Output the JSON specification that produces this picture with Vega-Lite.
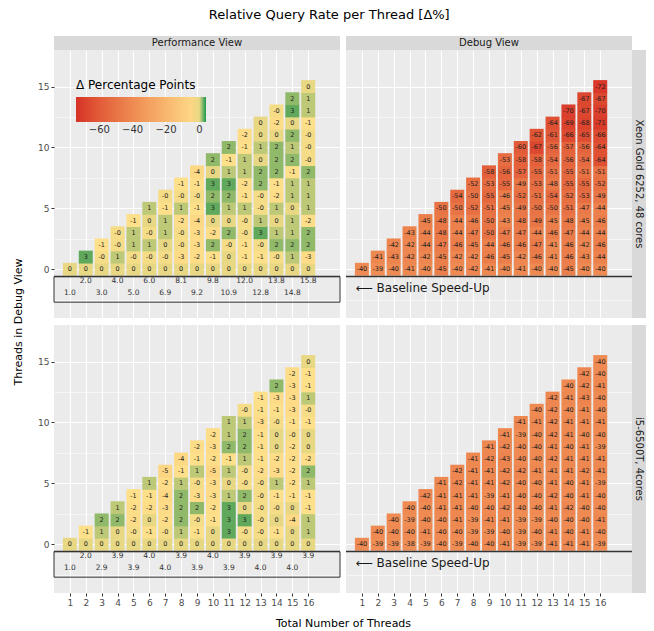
{
"$schema": "https://vega.github.io/schema/vega-lite/v6.json",
"background": "white",
"padding": {"left": 12, "top": 9, "right": 8, "bottom": 5},
"title": {"text": "Relative Query Rate per Thread [Δ%]", "anchor": "middle", "fontSize": 13, "fontWeight": "normal", "font": "DejaVu Sans", "color": "#000000", "offset": 14},
"datasets": {
"xp": [
{"x":1,"y":0,"v":0,"lab":"0"},
{"x":2,"y":0,"v":0,"lab":"0"},{"x":2,"y":1,"v":3,"lab":"3"},
{"x":3,"y":0,"v":0,"lab":"0"},{"x":3,"y":1,"v":-0.3,"lab":"-0"},{"x":3,"y":2,"v":-1,"lab":"-1"},
{"x":4,"y":0,"v":0,"lab":"0"},{"x":4,"y":1,"v":1,"lab":"1"},{"x":4,"y":2,"v":-0.3,"lab":"-0"},{"x":4,"y":3,"v":-0.3,"lab":"-0"},
{"x":5,"y":0,"v":0,"lab":"0"},{"x":5,"y":1,"v":-0.3,"lab":"-0"},{"x":5,"y":2,"v":1,"lab":"1"},{"x":5,"y":3,"v":1,"lab":"1"},{"x":5,"y":4,"v":-1,"lab":"-1"},
{"x":6,"y":0,"v":0,"lab":"0"},{"x":6,"y":1,"v":-0.3,"lab":"-0"},{"x":6,"y":2,"v":1,"lab":"1"},{"x":6,"y":3,"v":-0.3,"lab":"-0"},{"x":6,"y":4,"v":0,"lab":"0"},{"x":6,"y":5,"v":1,"lab":"1"},
{"x":7,"y":0,"v":0,"lab":"0"},{"x":7,"y":1,"v":-0.3,"lab":"-0"},{"x":7,"y":2,"v":0,"lab":"0"},{"x":7,"y":3,"v":1,"lab":"1"},{"x":7,"y":4,"v":1,"lab":"1"},{"x":7,"y":5,"v":-1,"lab":"-1"},{"x":7,"y":6,"v":-0.3,"lab":"-0"},
{"x":8,"y":0,"v":0,"lab":"0"},{"x":8,"y":1,"v":-3,"lab":"-3"},{"x":8,"y":2,"v":-0.3,"lab":"-0"},{"x":8,"y":3,"v":-0.3,"lab":"-0"},{"x":8,"y":4,"v":-2,"lab":"-2"},{"x":8,"y":5,"v":1,"lab":"1"},{"x":8,"y":6,"v":-0.3,"lab":"-0"},{"x":8,"y":7,"v":-1,"lab":"-1"},
{"x":9,"y":0,"v":0,"lab":"0"},{"x":9,"y":1,"v":-2,"lab":"-2"},{"x":9,"y":2,"v":-3,"lab":"-3"},{"x":9,"y":3,"v":-3,"lab":"-3"},{"x":9,"y":4,"v":-4,"lab":"-4"},{"x":9,"y":5,"v":-1,"lab":"-1"},{"x":9,"y":6,"v":-0.3,"lab":"-0"},{"x":9,"y":7,"v":-1,"lab":"-1"},{"x":9,"y":8,"v":-4,"lab":"-4"},
{"x":10,"y":0,"v":0,"lab":"0"},{"x":10,"y":1,"v":-1,"lab":"-1"},{"x":10,"y":2,"v":2,"lab":"2"},{"x":10,"y":3,"v":-2,"lab":"-2"},{"x":10,"y":4,"v":0,"lab":"0"},{"x":10,"y":5,"v":3,"lab":"3"},{"x":10,"y":6,"v":2,"lab":"2"},{"x":10,"y":7,"v":3,"lab":"3"},{"x":10,"y":8,"v":0,"lab":"0"},{"x":10,"y":9,"v":2,"lab":"2"},
{"x":11,"y":0,"v":0,"lab":"0"},{"x":11,"y":1,"v":0,"lab":"0"},{"x":11,"y":2,"v":-0.3,"lab":"-0"},{"x":11,"y":3,"v":2,"lab":"2"},{"x":11,"y":4,"v":0,"lab":"0"},{"x":11,"y":5,"v":1,"lab":"1"},{"x":11,"y":6,"v":2,"lab":"2"},{"x":11,"y":7,"v":3,"lab":"3"},{"x":11,"y":8,"v":1,"lab":"1"},{"x":11,"y":9,"v":-1,"lab":"-1"},{"x":11,"y":10,"v":2,"lab":"2"},
{"x":12,"y":0,"v":0,"lab":"0"},{"x":12,"y":1,"v":-1,"lab":"-1"},{"x":12,"y":2,"v":-1,"lab":"-1"},{"x":12,"y":3,"v":-0.3,"lab":"-0"},{"x":12,"y":4,"v":-0.3,"lab":"-0"},{"x":12,"y":5,"v":1,"lab":"1"},{"x":12,"y":6,"v":-1,"lab":"-1"},{"x":12,"y":7,"v":-2,"lab":"-2"},{"x":12,"y":8,"v":1,"lab":"1"},{"x":12,"y":9,"v":1,"lab":"1"},{"x":12,"y":10,"v":-1,"lab":"-1"},{"x":12,"y":11,"v":-2,"lab":"-2"},
{"x":13,"y":0,"v":0,"lab":"0"},{"x":13,"y":1,"v":-1,"lab":"-1"},{"x":13,"y":2,"v":-0.3,"lab":"-0"},{"x":13,"y":3,"v":3,"lab":"3"},{"x":13,"y":4,"v":1,"lab":"1"},{"x":13,"y":5,"v":-0.3,"lab":"-0"},{"x":13,"y":6,"v":-0.3,"lab":"-0"},{"x":13,"y":7,"v":2,"lab":"2"},{"x":13,"y":8,"v":2,"lab":"2"},{"x":13,"y":9,"v":0,"lab":"0"},{"x":13,"y":10,"v":1,"lab":"1"},{"x":13,"y":11,"v":0,"lab":"0"},{"x":13,"y":12,"v":0,"lab":"0"},
{"x":14,"y":0,"v":0,"lab":"0"},{"x":14,"y":1,"v":-0.3,"lab":"-0"},{"x":14,"y":2,"v":2,"lab":"2"},{"x":14,"y":3,"v":1,"lab":"1"},{"x":14,"y":4,"v":0,"lab":"0"},{"x":14,"y":5,"v":1,"lab":"1"},{"x":14,"y":6,"v":-2,"lab":"-2"},{"x":14,"y":7,"v":-1,"lab":"-1"},{"x":14,"y":8,"v":2,"lab":"2"},{"x":14,"y":9,"v":2,"lab":"2"},{"x":14,"y":10,"v":2,"lab":"2"},{"x":14,"y":11,"v":0,"lab":"0"},{"x":14,"y":12,"v":-2,"lab":"-2"},{"x":14,"y":13,"v":-0.3,"lab":"-0"},
{"x":15,"y":0,"v":0,"lab":"0"},{"x":15,"y":1,"v":1,"lab":"1"},{"x":15,"y":2,"v":2,"lab":"2"},{"x":15,"y":3,"v":1,"lab":"1"},{"x":15,"y":4,"v":1,"lab":"1"},{"x":15,"y":5,"v":0,"lab":"0"},{"x":15,"y":6,"v":1,"lab":"1"},{"x":15,"y":7,"v":1,"lab":"1"},{"x":15,"y":8,"v":-1,"lab":"-1"},{"x":15,"y":9,"v":2,"lab":"2"},{"x":15,"y":10,"v":1,"lab":"1"},{"x":15,"y":11,"v":2,"lab":"2"},{"x":15,"y":12,"v":0,"lab":"0"},{"x":15,"y":13,"v":3,"lab":"3"},{"x":15,"y":14,"v":2,"lab":"2"},
{"x":16,"y":0,"v":0,"lab":"0"},{"x":16,"y":1,"v":-3,"lab":"-3"},{"x":16,"y":2,"v":2,"lab":"2"},{"x":16,"y":3,"v":2,"lab":"2"},{"x":16,"y":4,"v":-2,"lab":"-2"},{"x":16,"y":5,"v":1,"lab":"1"},{"x":16,"y":6,"v":1,"lab":"1"},{"x":16,"y":7,"v":1,"lab":"1"},{"x":16,"y":8,"v":2,"lab":"2"},{"x":16,"y":9,"v":-0.3,"lab":"-0"},{"x":16,"y":10,"v":-0.3,"lab":"-0"},{"x":16,"y":11,"v":-0.3,"lab":"-0"},{"x":16,"y":12,"v":-1,"lab":"-1"},{"x":16,"y":13,"v":1,"lab":"1"},{"x":16,"y":14,"v":1,"lab":"1"},{"x":16,"y":15,"v":0,"lab":"0"}
],
"xd": [
{"x":1,"y":0,"v":-40},
{"x":2,"y":0,"v":-39},{"x":2,"y":1,"v":-41},
{"x":3,"y":0,"v":-40},{"x":3,"y":1,"v":-43},{"x":3,"y":2,"v":-42},
{"x":4,"y":0,"v":-41},{"x":4,"y":1,"v":-42},{"x":4,"y":2,"v":-42},{"x":4,"y":3,"v":-43},
{"x":5,"y":0,"v":-40},{"x":5,"y":1,"v":-42},{"x":5,"y":2,"v":-44},{"x":5,"y":3,"v":-44},{"x":5,"y":4,"v":-45},
{"x":6,"y":0,"v":-45},{"x":6,"y":1,"v":-45},{"x":6,"y":2,"v":-47},{"x":6,"y":3,"v":-48},{"x":6,"y":4,"v":-48},{"x":6,"y":5,"v":-50},
{"x":7,"y":0,"v":-40},{"x":7,"y":1,"v":-42},{"x":7,"y":2,"v":-46},{"x":7,"y":3,"v":-44},{"x":7,"y":4,"v":-44},{"x":7,"y":5,"v":-50},{"x":7,"y":6,"v":-54},
{"x":8,"y":0,"v":-42},{"x":8,"y":1,"v":-42},{"x":8,"y":2,"v":-45},{"x":8,"y":3,"v":-47},{"x":8,"y":4,"v":-46},{"x":8,"y":5,"v":-52},{"x":8,"y":6,"v":-50},{"x":8,"y":7,"v":-52},
{"x":9,"y":0,"v":-41},{"x":9,"y":1,"v":-46},{"x":9,"y":2,"v":-44},{"x":9,"y":3,"v":-50},{"x":9,"y":4,"v":-50},{"x":9,"y":5,"v":-51},{"x":9,"y":6,"v":-55},{"x":9,"y":7,"v":-53},{"x":9,"y":8,"v":-58},
{"x":10,"y":0,"v":-40},{"x":10,"y":1,"v":-45},{"x":10,"y":2,"v":-46},{"x":10,"y":3,"v":-47},{"x":10,"y":4,"v":-43},{"x":10,"y":5,"v":-45},{"x":10,"y":6,"v":-46},{"x":10,"y":7,"v":-55},{"x":10,"y":8,"v":-56},{"x":10,"y":9,"v":-53},
{"x":11,"y":0,"v":-41},{"x":11,"y":1,"v":-42},{"x":11,"y":2,"v":-46},{"x":11,"y":3,"v":-47},{"x":11,"y":4,"v":-48},{"x":11,"y":5,"v":-49},{"x":11,"y":6,"v":-52},{"x":11,"y":7,"v":-49},{"x":11,"y":8,"v":-57},{"x":11,"y":9,"v":-58},{"x":11,"y":10,"v":-60},
{"x":12,"y":0,"v":-40},{"x":12,"y":1,"v":-46},{"x":12,"y":2,"v":-47},{"x":12,"y":3,"v":-44},{"x":12,"y":4,"v":-49},{"x":12,"y":5,"v":-50},{"x":12,"y":6,"v":-51},{"x":12,"y":7,"v":-53},{"x":12,"y":8,"v":-55},{"x":12,"y":9,"v":-58},{"x":12,"y":10,"v":-67},{"x":12,"y":11,"v":-62},
{"x":13,"y":0,"v":-40},{"x":13,"y":1,"v":-41},{"x":13,"y":2,"v":-41},{"x":13,"y":3,"v":-46},{"x":13,"y":4,"v":-45},{"x":13,"y":5,"v":-50},{"x":13,"y":6,"v":-54},{"x":13,"y":7,"v":-48},{"x":13,"y":8,"v":-51},{"x":13,"y":9,"v":-54},{"x":13,"y":10,"v":-56},{"x":13,"y":11,"v":-61},{"x":13,"y":12,"v":-64},
{"x":14,"y":0,"v":-45},{"x":14,"y":1,"v":-46},{"x":14,"y":2,"v":-46},{"x":14,"y":3,"v":-47},{"x":14,"y":4,"v":-48},{"x":14,"y":5,"v":-51},{"x":14,"y":6,"v":-52},{"x":14,"y":7,"v":-55},{"x":14,"y":8,"v":-55},{"x":14,"y":9,"v":-56},{"x":14,"y":10,"v":-57},{"x":14,"y":11,"v":-66},{"x":14,"y":12,"v":-69},{"x":14,"y":13,"v":-70},
{"x":15,"y":0,"v":-40},{"x":15,"y":1,"v":-43},{"x":15,"y":2,"v":-42},{"x":15,"y":3,"v":-44},{"x":15,"y":4,"v":-45},{"x":15,"y":5,"v":-47},{"x":15,"y":6,"v":-53},{"x":15,"y":7,"v":-55},{"x":15,"y":8,"v":-51},{"x":15,"y":9,"v":-54},{"x":15,"y":10,"v":-56},{"x":15,"y":11,"v":-65},{"x":15,"y":12,"v":-68},{"x":15,"y":13,"v":-67},{"x":15,"y":14,"v":-67},
{"x":16,"y":0,"v":-40},{"x":16,"y":1,"v":-44},{"x":16,"y":2,"v":-46},{"x":16,"y":3,"v":-44},{"x":16,"y":4,"v":-46},{"x":16,"y":5,"v":-44},{"x":16,"y":6,"v":-49},{"x":16,"y":7,"v":-52},{"x":16,"y":8,"v":-51},{"x":16,"y":9,"v":-64},{"x":16,"y":10,"v":-64},{"x":16,"y":11,"v":-66},{"x":16,"y":12,"v":-71},{"x":16,"y":13,"v":-70},{"x":16,"y":14,"v":-67},{"x":16,"y":15,"v":-72}
],
"ip": [
{"x":1,"y":0,"v":0,"lab":"0"},
{"x":2,"y":0,"v":0,"lab":"0"},{"x":2,"y":1,"v":-1,"lab":"-1"},
{"x":3,"y":0,"v":0,"lab":"0"},{"x":3,"y":1,"v":1,"lab":"1"},{"x":3,"y":2,"v":2,"lab":"2"},
{"x":4,"y":0,"v":0,"lab":"0"},{"x":4,"y":1,"v":0,"lab":"0"},{"x":4,"y":2,"v":2,"lab":"2"},{"x":4,"y":3,"v":1,"lab":"1"},
{"x":5,"y":0,"v":0,"lab":"0"},{"x":5,"y":1,"v":-0.3,"lab":"-0"},{"x":5,"y":2,"v":-2,"lab":"-2"},{"x":5,"y":3,"v":-2,"lab":"-2"},{"x":5,"y":4,"v":-1,"lab":"-1"},
{"x":6,"y":0,"v":0,"lab":"0"},{"x":6,"y":1,"v":-1,"lab":"-1"},{"x":6,"y":2,"v":0,"lab":"0"},{"x":6,"y":3,"v":-2,"lab":"-2"},{"x":6,"y":4,"v":-1,"lab":"-1"},{"x":6,"y":5,"v":1,"lab":"1"},
{"x":7,"y":0,"v":0,"lab":"0"},{"x":7,"y":1,"v":-0.3,"lab":"-0"},{"x":7,"y":2,"v":-2,"lab":"-2"},{"x":7,"y":3,"v":-3,"lab":"-3"},{"x":7,"y":4,"v":-4,"lab":"-4"},{"x":7,"y":5,"v":-2,"lab":"-2"},{"x":7,"y":6,"v":-5,"lab":"-5"},
{"x":8,"y":0,"v":0,"lab":"0"},{"x":8,"y":1,"v":1,"lab":"1"},{"x":8,"y":2,"v":2,"lab":"2"},{"x":8,"y":3,"v":2,"lab":"2"},{"x":8,"y":4,"v":2,"lab":"2"},{"x":8,"y":5,"v":1,"lab":"1"},{"x":8,"y":6,"v":-1,"lab":"-1"},{"x":8,"y":7,"v":-4,"lab":"-4"},
{"x":9,"y":0,"v":0,"lab":"0"},{"x":9,"y":1,"v":-1,"lab":"-1"},{"x":9,"y":2,"v":-0.3,"lab":"-0"},{"x":9,"y":3,"v":2,"lab":"2"},{"x":9,"y":4,"v":-3,"lab":"-3"},{"x":9,"y":5,"v":-0.3,"lab":"-0"},{"x":9,"y":6,"v":1,"lab":"1"},{"x":9,"y":7,"v":-1,"lab":"-1"},{"x":9,"y":8,"v":-2,"lab":"-2"},
{"x":10,"y":0,"v":0,"lab":"0"},{"x":10,"y":1,"v":0,"lab":"0"},{"x":10,"y":2,"v":-1,"lab":"-1"},{"x":10,"y":3,"v":-2,"lab":"-2"},{"x":10,"y":4,"v":-3,"lab":"-3"},{"x":10,"y":5,"v":-3,"lab":"-3"},{"x":10,"y":6,"v":-5,"lab":"-5"},{"x":10,"y":7,"v":-2,"lab":"-2"},{"x":10,"y":8,"v":-3,"lab":"-3"},{"x":10,"y":9,"v":-2,"lab":"-2"},
{"x":11,"y":0,"v":0,"lab":"0"},{"x":11,"y":1,"v":3,"lab":"3"},{"x":11,"y":2,"v":3,"lab":"3"},{"x":11,"y":3,"v":3,"lab":"3"},{"x":11,"y":4,"v":1,"lab":"1"},{"x":11,"y":5,"v":0,"lab":"0"},{"x":11,"y":6,"v":1,"lab":"1"},{"x":11,"y":7,"v":-1,"lab":"-1"},{"x":11,"y":8,"v":2,"lab":"2"},{"x":11,"y":9,"v":1,"lab":"1"},{"x":11,"y":10,"v":1,"lab":"1"},
{"x":12,"y":0,"v":0,"lab":"0"},{"x":12,"y":1,"v":-0.3,"lab":"-0"},{"x":12,"y":2,"v":3,"lab":"3"},{"x":12,"y":3,"v":0,"lab":"0"},{"x":12,"y":4,"v":2,"lab":"2"},{"x":12,"y":5,"v":-0.3,"lab":"-0"},{"x":12,"y":6,"v":-0.3,"lab":"-0"},{"x":12,"y":7,"v":1,"lab":"1"},{"x":12,"y":8,"v":2,"lab":"2"},{"x":12,"y":9,"v":2,"lab":"2"},{"x":12,"y":10,"v":1,"lab":"1"},{"x":12,"y":11,"v":-0.3,"lab":"-0"},
{"x":13,"y":0,"v":0,"lab":"0"},{"x":13,"y":1,"v":-0.3,"lab":"-0"},{"x":13,"y":2,"v":-0.3,"lab":"-0"},{"x":13,"y":3,"v":-0.3,"lab":"-0"},{"x":13,"y":4,"v":-0.3,"lab":"-0"},{"x":13,"y":5,"v":-0.3,"lab":"-0"},{"x":13,"y":6,"v":-2,"lab":"-2"},{"x":13,"y":7,"v":-1,"lab":"-1"},{"x":13,"y":8,"v":-1,"lab":"-1"},{"x":13,"y":9,"v":-1,"lab":"-1"},{"x":13,"y":10,"v":-3,"lab":"-3"},{"x":13,"y":11,"v":-1,"lab":"-1"},{"x":13,"y":12,"v":-1,"lab":"-1"},
{"x":14,"y":0,"v":0,"lab":"0"},{"x":14,"y":1,"v":-1,"lab":"-1"},{"x":14,"y":2,"v":0,"lab":"0"},{"x":14,"y":3,"v":-0.3,"lab":"-0"},{"x":14,"y":4,"v":-1,"lab":"-1"},{"x":14,"y":5,"v":1,"lab":"1"},{"x":14,"y":6,"v":-3,"lab":"-3"},{"x":14,"y":7,"v":-2,"lab":"-2"},{"x":14,"y":8,"v":0,"lab":"0"},{"x":14,"y":9,"v":0,"lab":"0"},{"x":14,"y":10,"v":-0.3,"lab":"-0"},{"x":14,"y":11,"v":-1,"lab":"-1"},{"x":14,"y":12,"v":-3,"lab":"-3"},{"x":14,"y":13,"v":2,"lab":"2"},
{"x":15,"y":0,"v":0,"lab":"0"},{"x":15,"y":1,"v":0,"lab":"0"},{"x":15,"y":2,"v":-4,"lab":"-4"},{"x":15,"y":3,"v":0,"lab":"0"},{"x":15,"y":4,"v":-1,"lab":"-1"},{"x":15,"y":5,"v":-2,"lab":"-2"},{"x":15,"y":6,"v":-2,"lab":"-2"},{"x":15,"y":7,"v":-2,"lab":"-2"},{"x":15,"y":8,"v":-2,"lab":"-2"},{"x":15,"y":9,"v":-0.3,"lab":"-0"},{"x":15,"y":10,"v":-1,"lab":"-1"},{"x":15,"y":11,"v":-3,"lab":"-3"},{"x":15,"y":12,"v":-3,"lab":"-3"},{"x":15,"y":13,"v":-3,"lab":"-3"},{"x":15,"y":14,"v":-2,"lab":"-2"},
{"x":16,"y":0,"v":0,"lab":"0"},{"x":16,"y":1,"v":1,"lab":"1"},{"x":16,"y":2,"v":1,"lab":"1"},{"x":16,"y":3,"v":-1,"lab":"-1"},{"x":16,"y":4,"v":-1,"lab":"-1"},{"x":16,"y":5,"v":1,"lab":"1"},{"x":16,"y":6,"v":2,"lab":"2"},{"x":16,"y":7,"v":-2,"lab":"-2"},{"x":16,"y":8,"v":0,"lab":"0"},{"x":16,"y":9,"v":0,"lab":"0"},{"x":16,"y":10,"v":-1,"lab":"-1"},{"x":16,"y":11,"v":-0.3,"lab":"-0"},{"x":16,"y":12,"v":1,"lab":"1"},{"x":16,"y":13,"v":-1,"lab":"-1"},{"x":16,"y":14,"v":-1,"lab":"-1"},{"x":16,"y":15,"v":0,"lab":"0"}
],
"id": [
{"x":1,"y":0,"v":-40},
{"x":2,"y":0,"v":-39},{"x":2,"y":1,"v":-40},
{"x":3,"y":0,"v":-39},{"x":3,"y":1,"v":-40},{"x":3,"y":2,"v":-40},
{"x":4,"y":0,"v":-38},{"x":4,"y":1,"v":-40},{"x":4,"y":2,"v":-39},{"x":4,"y":3,"v":-40},
{"x":5,"y":0,"v":-39},{"x":5,"y":1,"v":-41},{"x":5,"y":2,"v":-40},{"x":5,"y":3,"v":-40},{"x":5,"y":4,"v":-42},
{"x":6,"y":0,"v":-40},{"x":6,"y":1,"v":-40},{"x":6,"y":2,"v":-40},{"x":6,"y":3,"v":-41},{"x":6,"y":4,"v":-41},{"x":6,"y":5,"v":-41},
{"x":7,"y":0,"v":-39},{"x":7,"y":1,"v":-40},{"x":7,"y":2,"v":-41},{"x":7,"y":3,"v":-41},{"x":7,"y":4,"v":-41},{"x":7,"y":5,"v":-42},{"x":7,"y":6,"v":-42},
{"x":8,"y":0,"v":-40},{"x":8,"y":1,"v":-39},{"x":8,"y":2,"v":-39},{"x":8,"y":3,"v":-40},{"x":8,"y":4,"v":-41},{"x":8,"y":5,"v":-41},{"x":8,"y":6,"v":-41},{"x":8,"y":7,"v":-41},
{"x":9,"y":0,"v":-40},{"x":9,"y":1,"v":-39},{"x":9,"y":2,"v":-41},{"x":9,"y":3,"v":-40},{"x":9,"y":4,"v":-39},{"x":9,"y":5,"v":-41},{"x":9,"y":6,"v":-41},{"x":9,"y":7,"v":-42},{"x":9,"y":8,"v":-41},
{"x":10,"y":0,"v":-41},{"x":10,"y":1,"v":-40},{"x":10,"y":2,"v":-41},{"x":10,"y":3,"v":-42},{"x":10,"y":4,"v":-41},{"x":10,"y":5,"v":-42},{"x":10,"y":6,"v":-42},{"x":10,"y":7,"v":-43},{"x":10,"y":8,"v":-42},{"x":10,"y":9,"v":-41},
{"x":11,"y":0,"v":-39},{"x":11,"y":1,"v":-39},{"x":11,"y":2,"v":-39},{"x":11,"y":3,"v":-40},{"x":11,"y":4,"v":-40},{"x":11,"y":5,"v":-40},{"x":11,"y":6,"v":-42},{"x":11,"y":7,"v":-40},{"x":11,"y":8,"v":-40},{"x":11,"y":9,"v":-39},{"x":11,"y":10,"v":-41},
{"x":12,"y":0,"v":-39},{"x":12,"y":1,"v":-40},{"x":12,"y":2,"v":-39},{"x":12,"y":3,"v":-40},{"x":12,"y":4,"v":-40},{"x":12,"y":5,"v":-40},{"x":12,"y":6,"v":-41},{"x":12,"y":7,"v":-40},{"x":12,"y":8,"v":-40},{"x":12,"y":9,"v":-40},{"x":12,"y":10,"v":-41},{"x":12,"y":11,"v":-40},
{"x":13,"y":0,"v":-41},{"x":13,"y":1,"v":-41},{"x":13,"y":2,"v":-40},{"x":13,"y":3,"v":-41},{"x":13,"y":4,"v":-42},{"x":13,"y":5,"v":-41},{"x":13,"y":6,"v":-41},{"x":13,"y":7,"v":-42},{"x":13,"y":8,"v":-41},{"x":13,"y":9,"v":-42},{"x":13,"y":10,"v":-42},{"x":13,"y":11,"v":-42},{"x":13,"y":12,"v":-42},
{"x":14,"y":0,"v":-41},{"x":14,"y":1,"v":-40},{"x":14,"y":2,"v":-40},{"x":14,"y":3,"v":-42},{"x":14,"y":4,"v":-40},{"x":14,"y":5,"v":-40},{"x":14,"y":6,"v":-41},{"x":14,"y":7,"v":-41},{"x":14,"y":8,"v":-40},{"x":14,"y":9,"v":-41},{"x":14,"y":10,"v":-41},{"x":14,"y":11,"v":-40},{"x":14,"y":12,"v":-41},{"x":14,"y":13,"v":-40},
{"x":15,"y":0,"v":-41},{"x":15,"y":1,"v":-41},{"x":15,"y":2,"v":-40},{"x":15,"y":3,"v":-40},{"x":15,"y":4,"v":-41},{"x":15,"y":5,"v":-41},{"x":15,"y":6,"v":-42},{"x":15,"y":7,"v":-41},{"x":15,"y":8,"v":-41},{"x":15,"y":9,"v":-40},{"x":15,"y":10,"v":-41},{"x":15,"y":11,"v":-41},{"x":15,"y":12,"v":-43},{"x":15,"y":13,"v":-42},{"x":15,"y":14,"v":-42},
{"x":16,"y":0,"v":-39},{"x":16,"y":1,"v":-40},{"x":16,"y":2,"v":-41},{"x":16,"y":3,"v":-40},{"x":16,"y":4,"v":-40},{"x":16,"y":5,"v":-39},{"x":16,"y":6,"v":-41},{"x":16,"y":7,"v":-41},{"x":16,"y":8,"v":-39},{"x":16,"y":9,"v":-40},{"x":16,"y":10,"v":-41},{"x":16,"y":11,"v":-40},{"x":16,"y":12,"v":-40},{"x":16,"y":13,"v":-41},{"x":16,"y":14,"v":-40},{"x":16,"y":15,"v":-40}
],
"base": [
{"cpu":"X","x":1,"speedup":1.0},{"cpu":"X","x":2,"speedup":2.0},{"cpu":"X","x":3,"speedup":3.0},{"cpu":"X","x":4,"speedup":4.0},
{"cpu":"X","x":5,"speedup":5.0},{"cpu":"X","x":6,"speedup":6.0},{"cpu":"X","x":7,"speedup":6.9},{"cpu":"X","x":8,"speedup":8.1},
{"cpu":"X","x":9,"speedup":9.2},{"cpu":"X","x":10,"speedup":9.8},{"cpu":"X","x":11,"speedup":10.9},{"cpu":"X","x":12,"speedup":12.0},
{"cpu":"X","x":13,"speedup":12.8},{"cpu":"X","x":14,"speedup":13.8},{"cpu":"X","x":15,"speedup":14.8},{"cpu":"X","x":16,"speedup":15.8},
{"cpu":"I","x":1,"speedup":1.0},{"cpu":"I","x":2,"speedup":2.0},{"cpu":"I","x":3,"speedup":2.9},{"cpu":"I","x":4,"speedup":3.9},
{"cpu":"I","x":5,"speedup":3.9},{"cpu":"I","x":6,"speedup":4.0},{"cpu":"I","x":7,"speedup":4.0},{"cpu":"I","x":8,"speedup":3.9},
{"cpu":"I","x":9,"speedup":3.9},{"cpu":"I","x":10,"speedup":4.0},{"cpu":"I","x":11,"speedup":3.9},{"cpu":"I","x":12,"speedup":3.9},
{"cpu":"I","x":13,"speedup":4.0},{"cpu":"I","x":14,"speedup":3.9},{"cpu":"I","x":15,"speedup":4.0},{"cpu":"I","x":16,"speedup":3.9}
]
},
"columns": 4,
"spacing": 0,
"bounds": "flush",
"align": "each",
"concat": [
{"width": 286, "height": 14, "view": {"fill": "#d9d9d9", "stroke": null},
 "data": {"values": [{"label": "Performance View"}]},
 "mark": {"type": "text", "fontSize": 10, "color": "#1a1a1a"},
 "encoding": {"text": {"field": "label", "type": "nominal"}}},
{"width": 6, "height": 14, "view": {"fill": "transparent", "stroke": null}, "data": {"values": []}, "mark": {"type": "text"}, "encoding": {}},
{"width": 286, "height": 14, "view": {"fill": "#d9d9d9", "stroke": null},
 "data": {"values": [{"label": "Debug View"}]},
 "mark": {"type": "text", "fontSize": 10, "color": "#1a1a1a"},
 "encoding": {"text": {"field": "label", "type": "nominal"}}},
{"width": 14, "height": 14, "view": {"fill": "transparent", "stroke": null}, "data": {"values": []}, "mark": {"type": "text"}, "encoding": {}},

{"width": 286, "height": 268,
 "data": {"name": "xp"},
 "layer": [
  {"mark": {"type": "rect", "width": 14, "height": 12.9},
   "encoding": {
    "x": {"field": "x", "type": "quantitative", "scale": {"domain": [0.05, 16.95]},
          "axis": {"values": [1,2,3,4,5,6,7,8,9,10,11,12,13,14,15,16], "tickCount": 100, "format": "d", "labels": false, "ticks": false, "title": null, "labelOverlap": false}},
    "y": {"field": "y", "type": "quantitative", "scale": {"domain": [-3.33, 17.44]},
          "axis": {"values": [-2.5,0,2.5,5,7.5,10,12.5,15], "tickCount": 100, "format": "d", "labelExpr": "datum.value % 5 == 0 ? datum.label : ''", "labelOverlap": false,
                   "tickOpacity": {"condition": {"test": "datum.value % 5 == 0", "value": 1}, "value": 0},
                   "gridWidth": {"condition": {"test": "datum.value % 5 == 0", "value": 1.1}, "value": 0.55},
                   "title": "Threads in Debug View", "titleY": 271.5, "titlePadding": 14}},
    "color": {"field": "v", "type": "quantitative",
              "scale": {"domain": [-74, -0.5, 4], "range": ["#d73027", "#fee08b", "#1a9850"], "interpolate": "lab"},
              "legend": {"title": "Δ Percentage Points", "orient": "none", "legendX": 22, "legendY": 44, "direction": "horizontal",
                         "gradientLength": 130, "gradientThickness": 25, "values": [-60, -40, -20, 0], "labelFlush": false,
                         "titleFontSize": 12, "titleFontWeight": "normal", "titleColor": "#000000", "labelFontSize": 10,
                         "labelColor": "#333333", "padding": 0, "titlePadding": 5, "labelOffset": 3, "gradientStrokeWidth": 0}}
   }},
  {"mark": {"type": "text", "fontSize": 6.5, "color": "#222222"},
   "encoding": {"x": {"field": "x", "type": "quantitative"}, "y": {"field": "y", "type": "quantitative"}, "text": {"field": "lab", "type": "nominal"}}},
  {"data": {"values": [{}]}, "mark": {"type": "rule", "color": "#333333", "strokeWidth": 1.5}, "encoding": {"y": {"datum": -0.6}}},
  {"data": {"values": [{}]}, "mark": {"type": "rect", "fill": "transparent", "stroke": "#333333", "strokeWidth": 1}, "encoding": {"y": {"datum": -0.6}, "y2": {"datum": -2.7}}},
  {"data": {"name": "base"}, "transform": [{"filter": "datum.cpu == 'X' && datum.x % 2 == 0"}],
   "mark": {"type": "text", "fontSize": 7.5, "color": "#333333"},
   "encoding": {"x": {"field": "x", "type": "quantitative"}, "y": {"datum": -1.0}, "text": {"field": "speedup", "type": "quantitative", "format": ".1f"}}},
  {"data": {"name": "base"}, "transform": [{"filter": "datum.cpu == 'X' && datum.x % 2 == 1"}],
   "mark": {"type": "text", "fontSize": 7.5, "color": "#333333"},
   "encoding": {"x": {"field": "x", "type": "quantitative"}, "y": {"datum": -1.95}, "text": {"field": "speedup", "type": "quantitative", "format": ".1f"}}}
 ]},
{"width": 6, "height": 268, "view": {"fill": "transparent", "stroke": null}, "data": {"values": []}, "mark": {"type": "text"}, "encoding": {}},
{"width": 286, "height": 268,
 "data": {"name": "xd"},
 "layer": [
  {"mark": {"type": "rect", "width": 14, "height": 12.9},
   "encoding": {
    "x": {"field": "x", "type": "quantitative", "scale": {"domain": [0.05, 16.95]},
          "axis": {"values": [1,2,3,4,5,6,7,8,9,10,11,12,13,14,15,16], "tickCount": 100, "format": "d", "labels": false, "ticks": false, "title": null}},
    "y": {"field": "y", "type": "quantitative", "scale": {"domain": [-3.33, 17.44]},
          "axis": {"values": [-2.5,0,2.5,5,7.5,10,12.5,15], "tickCount": 100, "format": "d", "labels": false, "ticks": false,
                   "gridWidth": {"condition": {"test": "datum.value % 5 == 0", "value": 1.1}, "value": 0.55}, "title": null}},
    "color": {"field": "v", "type": "quantitative",
              "scale": {"domain": [-74, -0.5, 4], "range": ["#d73027", "#fee08b", "#1a9850"], "interpolate": "lab"},
              "legend": {"title": "Δ Percentage Points", "orient": "none", "legendX": 22, "legendY": 44, "direction": "horizontal",
                         "gradientLength": 130, "gradientThickness": 25, "values": [-60, -40, -20, 0], "labelFlush": false,
                         "titleFontSize": 12, "titleFontWeight": "normal", "titleColor": "#000000", "labelFontSize": 10,
                         "labelColor": "#333333", "padding": 0, "titlePadding": 5, "labelOffset": 3, "gradientStrokeWidth": 0}}
   }},
  {"mark": {"type": "text", "fontSize": 6.5, "color": "#222222"},
   "encoding": {"x": {"field": "x", "type": "quantitative"}, "y": {"field": "y", "type": "quantitative"}, "text": {"field": "v", "type": "nominal"}}},
  {"data": {"values": [{}]}, "mark": {"type": "rule", "color": "#333333", "strokeWidth": 1.5}, "encoding": {"y": {"datum": -0.6}}},
  {"data": {"values": [{"label": "⟵ Baseline Speed-Up"}]}, "mark": {"type": "text", "fontSize": 12, "color": "#1a1a1a", "align": "left"},
   "encoding": {"x": {"datum": 0.6}, "y": {"datum": -1.5}, "text": {"field": "label", "type": "nominal"}}}
 ]},
{"width": 14, "height": 268, "view": {"fill": "#d9d9d9", "stroke": null},
 "data": {"values": [{"label": "Xeon Gold 6252, 48 cores"}]},
 "mark": {"type": "text", "fontSize": 10, "color": "#1a1a1a", "angle": 90},
 "encoding": {"text": {"field": "label", "type": "nominal"}}},

{"width": 286, "height": 7, "view": {"fill": "transparent", "stroke": null}, "data": {"values": []}, "mark": {"type": "text"}, "encoding": {}},
{"width": 6, "height": 7, "view": {"fill": "transparent", "stroke": null}, "data": {"values": []}, "mark": {"type": "text"}, "encoding": {}},
{"width": 286, "height": 7, "view": {"fill": "transparent", "stroke": null}, "data": {"values": []}, "mark": {"type": "text"}, "encoding": {}},
{"width": 14, "height": 7, "view": {"fill": "transparent", "stroke": null}, "data": {"values": []}, "mark": {"type": "text"}, "encoding": {}},

{"width": 286, "height": 268,
 "data": {"name": "ip"},
 "layer": [
  {"mark": {"type": "rect", "width": 14, "height": 12.9},
   "encoding": {
    "x": {"field": "x", "type": "quantitative", "scale": {"domain": [0.05, 16.95]},
          "axis": {"values": [1,2,3,4,5,6,7,8,9,10,11,12,13,14,15,16], "tickCount": 100, "format": "d", "labelOverlap": false, "labelFlush": false, "title": "Total Number of Threads", "titleX": 289, "titlePadding": 10}},
    "y": {"field": "y", "type": "quantitative", "scale": {"domain": [-3.33, 17.44]},
          "axis": {"values": [-2.5,0,2.5,5,7.5,10,12.5,15], "tickCount": 100, "format": "d", "labelExpr": "datum.value % 5 == 0 ? datum.label : ''", "labelOverlap": false,
                   "tickOpacity": {"condition": {"test": "datum.value % 5 == 0", "value": 1}, "value": 0},
                   "gridWidth": {"condition": {"test": "datum.value % 5 == 0", "value": 1.1}, "value": 0.55},
                   "title": null}},
    "color": {"field": "v", "type": "quantitative",
              "scale": {"domain": [-74, -0.5, 4], "range": ["#d73027", "#fee08b", "#1a9850"], "interpolate": "lab"},
              "legend": {"title": "Δ Percentage Points", "orient": "none", "legendX": 22, "legendY": 44, "direction": "horizontal",
                         "gradientLength": 130, "gradientThickness": 25, "values": [-60, -40, -20, 0], "labelFlush": false,
                         "titleFontSize": 12, "titleFontWeight": "normal", "titleColor": "#000000", "labelFontSize": 10,
                         "labelColor": "#333333", "padding": 0, "titlePadding": 5, "labelOffset": 3, "gradientStrokeWidth": 0}}
   }},
  {"mark": {"type": "text", "fontSize": 6.5, "color": "#222222"},
   "encoding": {"x": {"field": "x", "type": "quantitative"}, "y": {"field": "y", "type": "quantitative"}, "text": {"field": "lab", "type": "nominal"}}},
  {"data": {"values": [{}]}, "mark": {"type": "rule", "color": "#333333", "strokeWidth": 1.5}, "encoding": {"y": {"datum": -0.6}}},
  {"data": {"values": [{}]}, "mark": {"type": "rect", "fill": "transparent", "stroke": "#333333", "strokeWidth": 1}, "encoding": {"y": {"datum": -0.6}, "y2": {"datum": -2.7}}},
  {"data": {"name": "base"}, "transform": [{"filter": "datum.cpu == 'I' && datum.x % 2 == 0"}],
   "mark": {"type": "text", "fontSize": 7.5, "color": "#333333"},
   "encoding": {"x": {"field": "x", "type": "quantitative"}, "y": {"datum": -1.0}, "text": {"field": "speedup", "type": "quantitative", "format": ".1f"}}},
  {"data": {"name": "base"}, "transform": [{"filter": "datum.cpu == 'I' && datum.x % 2 == 1"}],
   "mark": {"type": "text", "fontSize": 7.5, "color": "#333333"},
   "encoding": {"x": {"field": "x", "type": "quantitative"}, "y": {"datum": -1.95}, "text": {"field": "speedup", "type": "quantitative", "format": ".1f"}}}
 ]},
{"width": 6, "height": 268, "view": {"fill": "transparent", "stroke": null}, "data": {"values": []}, "mark": {"type": "text"}, "encoding": {}},
{"width": 286, "height": 268,
 "data": {"name": "id"},
 "layer": [
  {"mark": {"type": "rect", "width": 14, "height": 12.9},
   "encoding": {
    "x": {"field": "x", "type": "quantitative", "scale": {"domain": [0.05, 16.95]},
          "axis": {"values": [1,2,3,4,5,6,7,8,9,10,11,12,13,14,15,16], "tickCount": 100, "format": "d", "labelOverlap": false, "labelFlush": false, "title": null}},
    "y": {"field": "y", "type": "quantitative", "scale": {"domain": [-3.33, 17.44]},
          "axis": {"values": [-2.5,0,2.5,5,7.5,10,12.5,15], "tickCount": 100, "format": "d", "labels": false, "ticks": false,
                   "gridWidth": {"condition": {"test": "datum.value % 5 == 0", "value": 1.1}, "value": 0.55}, "title": null}},
    "color": {"field": "v", "type": "quantitative",
              "scale": {"domain": [-74, -0.5, 4], "range": ["#d73027", "#fee08b", "#1a9850"], "interpolate": "lab"},
              "legend": {"title": "Δ Percentage Points", "orient": "none", "legendX": 22, "legendY": 44, "direction": "horizontal",
                         "gradientLength": 130, "gradientThickness": 25, "values": [-60, -40, -20, 0], "labelFlush": false,
                         "titleFontSize": 12, "titleFontWeight": "normal", "titleColor": "#000000", "labelFontSize": 10,
                         "labelColor": "#333333", "padding": 0, "titlePadding": 5, "labelOffset": 3, "gradientStrokeWidth": 0}}
   }},
  {"mark": {"type": "text", "fontSize": 6.5, "color": "#222222"},
   "encoding": {"x": {"field": "x", "type": "quantitative"}, "y": {"field": "y", "type": "quantitative"}, "text": {"field": "v", "type": "nominal"}}},
  {"data": {"values": [{}]}, "mark": {"type": "rule", "color": "#333333", "strokeWidth": 1.5}, "encoding": {"y": {"datum": -0.6}}},
  {"data": {"values": [{"label": "⟵ Baseline Speed-Up"}]}, "mark": {"type": "text", "fontSize": 12, "color": "#1a1a1a", "align": "left"},
   "encoding": {"x": {"datum": 0.6}, "y": {"datum": -1.5}, "text": {"field": "label", "type": "nominal"}}}
 ]},
{"width": 14, "height": 268, "view": {"fill": "#d9d9d9", "stroke": null},
 "data": {"values": [{"label": "i5-6500T, 4cores"}]},
 "mark": {"type": "text", "fontSize": 10, "color": "#1a1a1a", "angle": 90},
 "encoding": {"text": {"field": "label", "type": "nominal"}}}
],
"config": {
 "font": "DejaVu Sans",
 "view": {"fill": "#ebebeb", "stroke": null},
 "axis": {"domain": false, "gridColor": "#ffffff", "gridWidth": 1.1, "tickColor": "#333333", "tickSize": 3, "tickWidth": 1, "labelOverlap": false,
          "labelColor": "#4d4d4d", "labelFontSize": 9, "labelPadding": 2, "titleColor": "#000000", "titleFontSize": 11, "titleFontWeight": "normal"}
}
}
